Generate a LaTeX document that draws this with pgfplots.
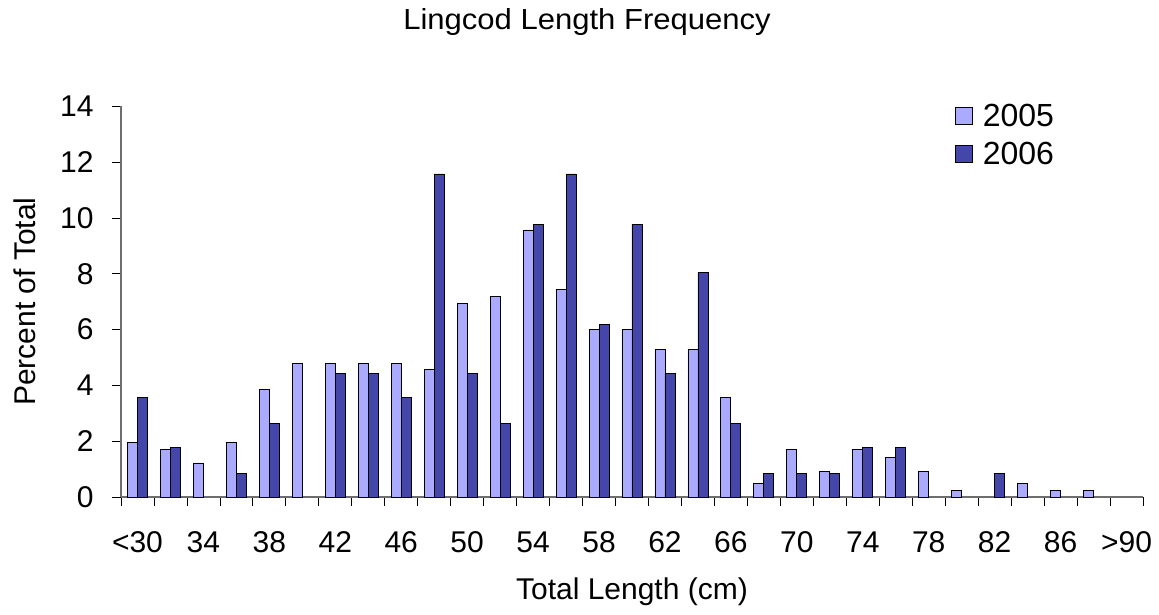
\documentclass[border=0pt]{standalone}
\usepackage{fontspec}
\setmainfont{Liberation Sans}
\newfontfamily\titlefont[FakeStretch=1.07]{Liberation Sans}
\usepackage{pgfplots}
\usepackage{pgfplotstable}
\pgfplotsset{compat=1.18}
\definecolor{cA}{RGB}{170,170,255}
\definecolor{cB}{RGB}{68,70,170}
\definecolor{axg}{RGB}{110,110,110}

\pgfplotstableread{
x y
0 1.94
1 1.72
2 1.22
3 1.94
4 3.85
5 4.78
6 4.78
7 4.78
8 4.78
9 4.56
10 6.93
11 7.20
12 9.57
13 7.43
14 6.00
15 6.00
16 5.28
17 5.28
18 3.56
19 0.50
20 1.72
21 0.93
22 1.72
23 1.43
24 0.93
25 0.22
27 0.50
28 0.22
29 0.22
}\tabA

\pgfplotstableread{
x y
0 3.56
1 1.79
3 0.86
4 2.65
6 4.42
7 4.42
8 3.56
9 11.58
10 4.42
11 2.65
12 9.78
13 11.58
14 6.20
15 9.78
16 4.42
17 8.06
18 2.65
19 0.86
20 0.86
21 0.86
22 1.79
23 1.79
26 0.86
}\tabB

\begin{document}
\begin{tikzpicture}[x=1pt,y=1pt]
\useasboundingbox (0,0) rectangle (1159,615);
\begin{axis}[
  at={(121pt,118pt)}, anchor=south west,
  scale only axis, width=1022pt, height=390.6pt,
  xmin=-0.5, xmax=30.5, ymin=0, ymax=14,
  ybar=0pt, bar width=10pt,
  axis x line=bottom, axis y line=left,
  axis line style={draw=axg, line width=1.2pt, -},
  xtick={0,2,...,30},
  xticklabels={{<30},34,38,42,46,50,54,58,62,66,70,74,78,82,86,{>90}},
  minor xtick={-0.5,0.5,...,30.5},
  ytick={0,2,...,14},
  tick align=outside,
  major tick length=9pt, minor tick length=9pt,
  major x tick style={draw=none},
  minor x tick style={draw=black, line width=0.8pt},
  major y tick style={draw=black, line width=0.8pt},
  /pgf/number format/assume math mode=true,
  tick label style={font=\fontsize{30}{35}\selectfont},
  xticklabel style={yshift=-22pt},
  yticklabel style={xshift=-15pt},
  label style={font=\fontsize{30}{35}\selectfont},
  xlabel={Total Length (cm)},
  ylabel={Percent of Total},
  xlabel style={at={(axis description cs:0.5,-0.243)}, anchor=center},
  ylabel style={at={(axis description cs:-0.094,0.5)}, anchor=center, rotate=0},
  title={\titlefont Lingcod Length Frequency},
  title style={at={(axis description cs:0.456,1.2)}, anchor=center, font=\fontsize{29}{34}\selectfont},
  legend style={at={(axis description cs:0.813,1.03)}, anchor=north west,
    draw=none, fill=none, font=\fontsize{32}{37}\selectfont, row sep=0pt,
    nodes={inner xsep=10pt, inner ysep=7pt}},
  legend cell align=left,
  legend image code/.code={\draw[#1] (0pt,-8.5pt) rectangle (17pt,8.5pt);},
  clip=false,
]
\addplot[fill=cA, draw=black, line width=0.8pt] table[x=x,y=y] {\tabA};
\addplot[fill=cB, draw=black, line width=0.8pt] table[x=x,y=y] {\tabB};
\legend{2005,2006}
\end{axis}
\end{tikzpicture}
\end{document}
